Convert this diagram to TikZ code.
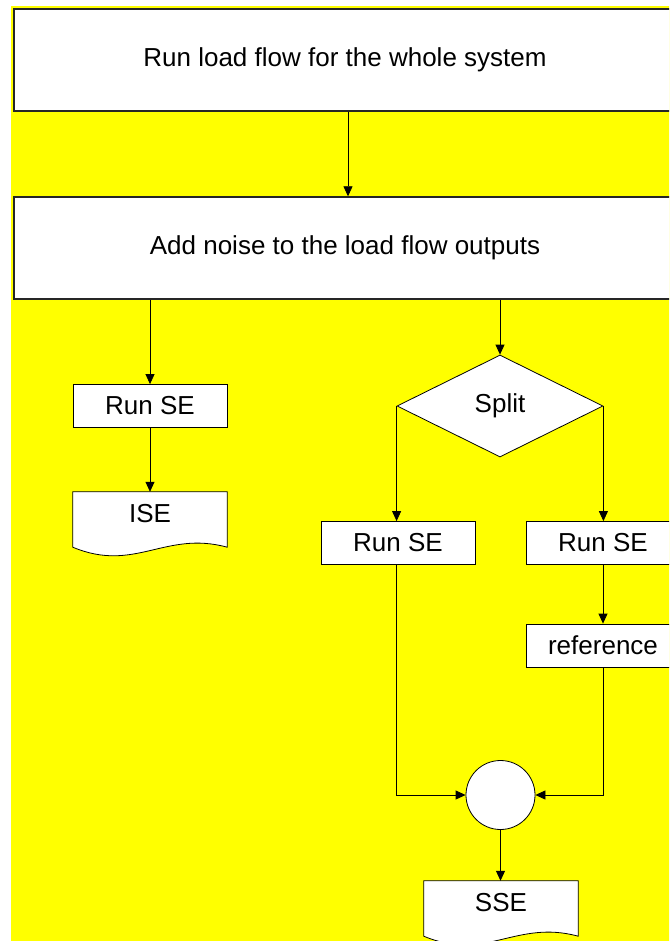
\documentclass[tikz,border=0pt]{standalone}
\usepackage{fontspec}
\setmainfont{Liberation Sans}
\usetikzlibrary{arrows.meta,shapes.geometric,calc}
\definecolor{bgyellow}{RGB}{255,255,0}
\begin{document}
\begin{tikzpicture}[x=1pt,y=-1pt,
  txt/.style={font=\fontsize{26}{31}\selectfont},
  bigbox/.style={txt,draw=black!85,line width=1.4pt,fill=white,minimum width=662pt,minimum height=102pt,inner sep=0pt},
  procbox/.style={txt,draw=black,line width=0.8pt,fill=white,minimum width=154pt,minimum height=43pt,inner sep=0pt},
  docbox/.style={txt,minimum width=154pt,minimum height=55pt,inner sep=0pt},
  decision/.style={txt,diamond,draw=black,line width=0.8pt,fill=white,minimum width=206pt,minimum height=102pt,inner sep=0pt},
  joinc/.style={circle,draw=black,line width=0.8pt,fill=white,minimum size=69pt,inner sep=0pt},
  arr/.style={draw=black,line width=0.8pt,-{Triangle[length=10pt,width=9pt]}},
  ln/.style={draw=black,line width=0.8pt}]
\useasboundingbox (0,0) rectangle (669,941);
\clip (0,0) rectangle (669,941);
\fill[bgyellow] (11,6) rectangle (680,950);

\node[bigbox] (top) at (345,60) {\raisebox{-2pt}{Run load flow for the whole system}};
\node[bigbox] (noise) at (345,248) {\raisebox{-2pt}{Add noise to the load flow outputs}};

\node[procbox] (rse1) at (150,406) {Run SE};
\node[docbox] (ise) at (150,519.5) {};
\node[decision] (split) at (500,406) {Split};
\node[procbox] (rse2) at (398,543) {Run SE};
\node[procbox] (rse3) at (603,543) {Run SE};
\node[procbox] (ref) at (603,645.5) {reference};
\node[joinc] (circ) at (500.5,795) {};
\node[docbox] (sse) at (501,908.5) {};

% document shapes
\foreach \d/\t in {ise/ISE,sse/SSE}{
  \draw[black,line width=0.8pt,fill=white] (\d.north west) -- (\d.north east) -- (\d.south east)
    .. controls ($(\d.south)+(15,-17)$) and ($(\d.south)+(-15,26)$) .. (\d.south west) -- cycle;
  \node[txt] at ([yshift=5.5pt]\d.center) {\t};
}

% connectors
\draw[arr] ([xshift=3pt]top.south) -- ([xshift=3pt]noise.north);
\draw[arr] (noise.south -| rse1.north) -- (rse1.north);
\draw[arr] (noise.south -| split.north) -- (split.north);
\draw[arr] (rse1.south) -- (ise.north);
\draw[arr] (split.west) -- (split.west |- rse2.north);
\draw[arr] (split.east) -- (split.east |- rse3.north);
\draw[arr] (rse3.south) -- (ref.north);
\draw[arr] (split.west |- rse2.south) -- (split.west |- circ.west) -- (circ.west);
\draw[arr] (ref.south) -- (ref.south |- circ.east) -- (circ.east);
\draw[arr] (circ.south) -- (circ.south |- sse.north);
\end{tikzpicture}
\end{document}
